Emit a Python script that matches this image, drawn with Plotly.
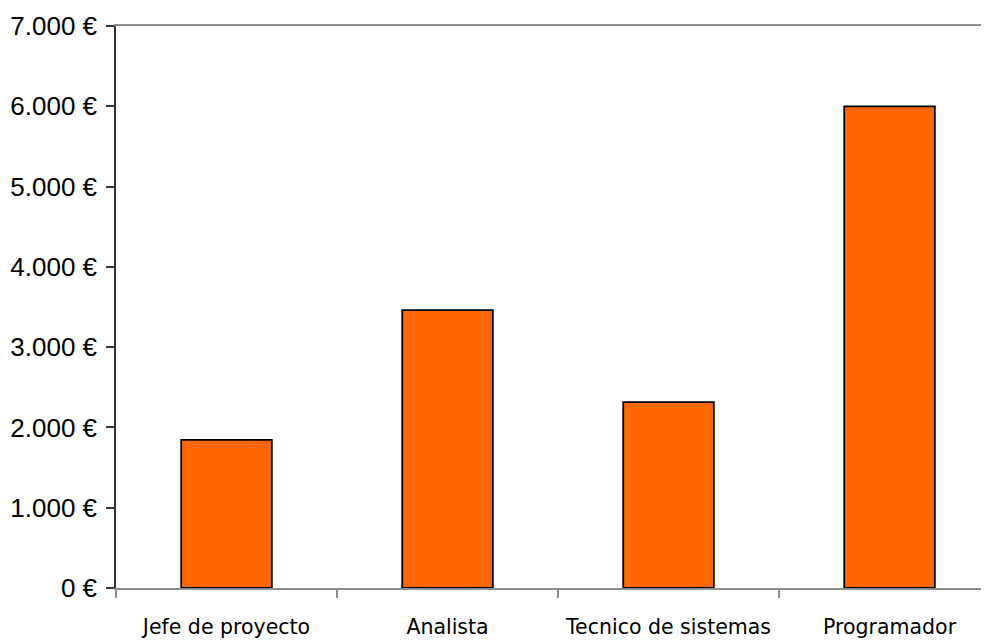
import plotly.graph_objects as go

categories = ["Jefe de proyecto", "Analista", "Tecnico de sistemas", "Programador"]
salaries = [1845, 3460, 2315, 6000]
y_tick_vals = [0, 1000, 2000, 3000, 4000, 5000, 6000, 7000]
y_tick_text = ["0 €", "1.000 €", "2.000 €", "3.000 €", "4.000 €", "5.000 €", "6.000 €", "7.000 €"]

fig = go.Figure(
    go.Bar(
        x=categories,
        y=salaries,
        width=0.41,
        marker=dict(color="#FF6600", line=dict(color="#000000", width=1.8)),
    )
)

fig.update_layout(
    width=981,
    height=633,
    margin=dict(l=108, r=0, t=18, b=53),
    paper_bgcolor="white",
    plot_bgcolor="white",
    showlegend=False,
)

fig.update_xaxes(
    type="category",
    range=[-0.5, 3.45],
    automargin=False,
    showgrid=False,
    showline=True,
    linecolor="#8c8c8c",
    linewidth=1.5,
    mirror=True,
    ticks="outside",
    tickson="boundaries",
    ticklen=8,
    tickcolor="#8c8c8c",
    tickwidth=1.5,
    tickfont=dict(family="DejaVu Sans", size=20.5, color="#000000"),
    ticklabelstandoff=20,
)

fig.update_yaxes(
    range=[0, 7000],
    automargin=False,
    tickvals=y_tick_vals,
    ticktext=y_tick_text,
    showgrid=False,
    zeroline=False,
    showline=True,
    linecolor="#333333",
    linewidth=1.5,
    ticks="outside",
    ticklen=8,
    tickcolor="#333333",
    tickwidth=1.5,
    tickfont=dict(family="Liberation Sans", size=26, color="#000000"),
    ticklabelstandoff=4,
)

fig.write_html("out.html")
